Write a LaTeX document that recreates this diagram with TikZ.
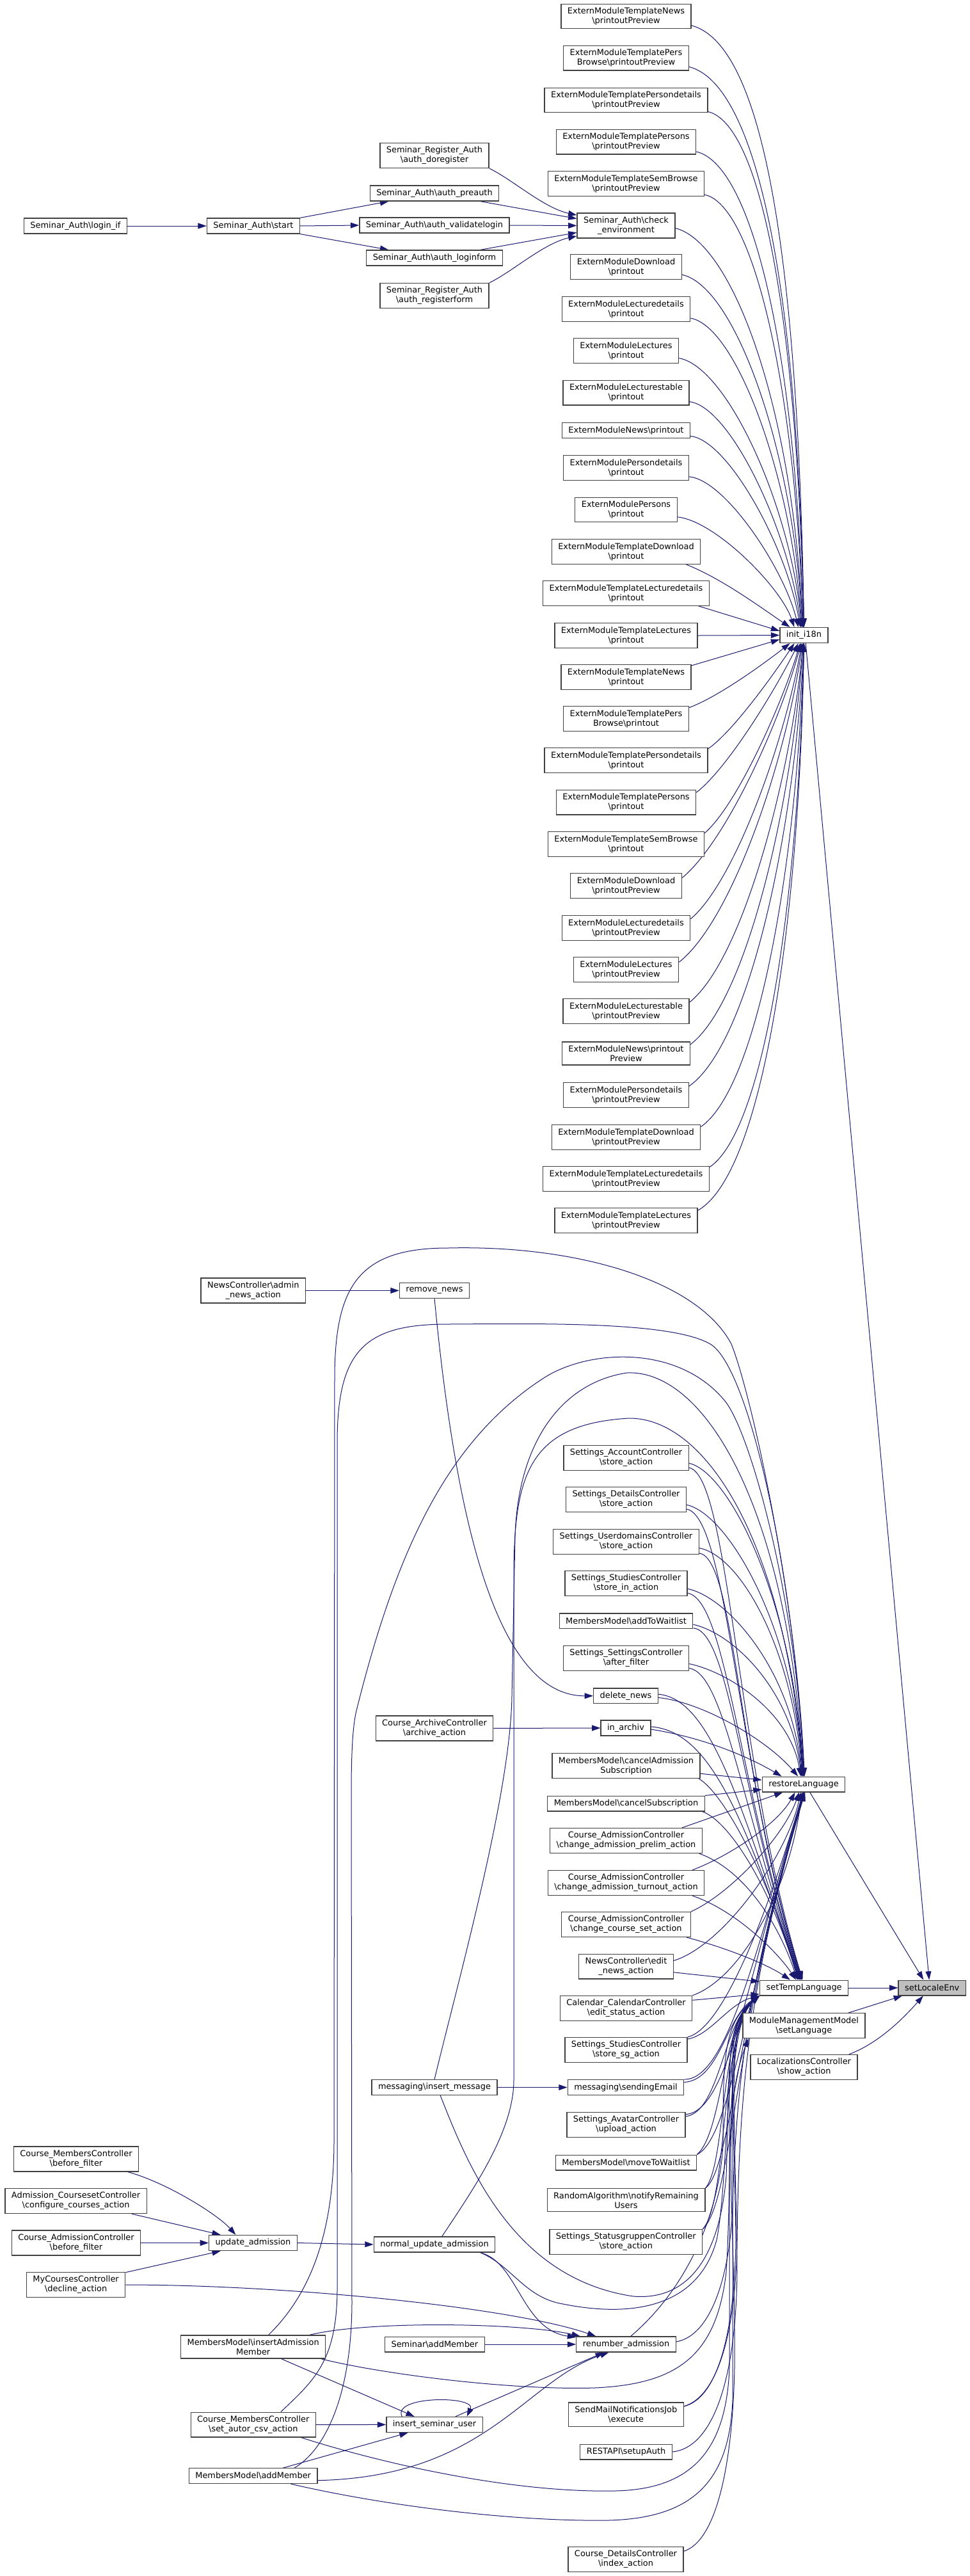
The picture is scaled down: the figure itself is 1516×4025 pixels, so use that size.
\documentclass[tikz,border=0pt]{standalone}
\usepackage{fontspec}
\setmainfont{DejaVu Sans}
\usetikzlibrary{arrows.meta}
\pgfdeclarelayer{edges}
\pgfsetlayers{edges,main}
\definecolor{edgeblue}{RGB}{25,25,112}
\definecolor{nodegray}{RGB}{64,64,64}
\definecolor{targetfill}{RGB}{191,191,191}
\newcommand{\bsl}{\textbackslash{}}

\begin{document}
\begin{tikzpicture}[x=0.75pt,y=-0.75pt]
	\tikzstyle{fnbox}=[draw=nodegray, line width=1pt, fill=white, align=center, font=\fontsize{9.7}{11.25}\selectfont, inner xsep=7.5pt, inner ysep=4.15pt, minimum height=17.75pt]
	\tikzstyle{fntarget}=[fnbox, fill=targetfill]
	\tikzstyle{callarrow}=[draw=edgeblue, line width=0.75pt, -{Triangle[length=10pt,width=6.7pt]}]
	\useasboundingbox (0,0) rectangle (1516,4025);
	% seminar auth part
	\node [fnbox] (loginif) at (118,353) {Seminar\_Auth\bsl login\_if};
	\node [fnbox] (start) at (396,353) {Seminar\_Auth\bsl start};
	\node [fnbox] (doreg) at (679,243) {Seminar\_Register\_Auth\\\bsl auth\_doregister};
	\node [fnbox] (preauth) at (679,302) {Seminar\_Auth\bsl auth\_preauth};
	\node [fnbox] (validate) at (679,352) {Seminar\_Auth\bsl auth\_validatelogin};
	\node [fnbox] (loginform) at (679,403) {Seminar\_Auth\bsl auth\_loginform};
	\node [fnbox] (regform) at (679,462) {Seminar\_Register\_Auth\\\bsl auth\_registerform};
	\node [fnbox] (checkenv) at (978.5,352.5) {Seminar\_Auth\bsl check\\\_environment};
	% extern modules
	\node [fnbox] (tnewsprev) at (978.5,25.5) {ExternModuleTemplateNews\\\bsl printoutPreview};
	\node [fnbox] (tpbprev) at (978.5,90.6) {ExternModuleTemplatePers\\Browse\bsl printoutPreview};
	\node [fnbox] (tpdprev) at (978.5,156.5) {ExternModuleTemplatePersondetails\\\bsl printoutPreview};
	\node [fnbox] (tpsprev) at (978.5,221.6) {ExternModuleTemplatePersons\\\bsl printoutPreview};
	\node [fnbox] (tsbprev) at (978.5,287) {ExternModuleTemplateSemBrowse\\\bsl printoutPreview};
	\node [fnbox] (dlprint) at (978.5,417) {ExternModuleDownload\\\bsl printout};
	\node [fnbox] (ldprint) at (978.5,483) {ExternModuleLecturedetails\\\bsl printout};
	\node [fnbox] (lcprint) at (978.5,548) {ExternModuleLectures\\\bsl printout};
	\node [fnbox] (ltprint) at (978.5,613.7) {ExternModuleLecturestable\\\bsl printout};
	\node [fnbox] (nwprint) at (978.5,672.6) {ExternModuleNews\bsl printout};
	\node [fnbox] (pdprint) at (978.5,731) {ExternModulePersondetails\\\bsl printout};
	\node [fnbox] (psprint) at (978.5,796.5) {ExternModulePersons\\\bsl printout};
	\node [fnbox] (tdlprint) at (978.5,862) {ExternModuleTemplateDownload\\\bsl printout};
	\node [fnbox] (tldprint) at (978.5,927) {ExternModuleTemplateLecturedetails\\\bsl printout};
	\node [fnbox] (tlcprint) at (978.5,993) {ExternModuleTemplateLectures\\\bsl printout};
	\node [fnbox] (tnwprint) at (978.5,1058) {ExternModuleTemplateNews\\\bsl printout};
	\node [fnbox] (tpbprint) at (978.5,1123) {ExternModuleTemplatePers\\Browse\bsl printout};
	\node [fnbox] (tpdprint) at (978.5,1188) {ExternModuleTemplatePersondetails\\\bsl printout};
	\node [fnbox] (tpsprint) at (978.5,1253.6) {ExternModuleTemplatePersons\\\bsl printout};
	\node [fnbox] (tsbprint) at (978.5,1319) {ExternModuleTemplateSemBrowse\\\bsl printout};
	\node [fnbox] (dlprev) at (978.5,1384) {ExternModuleDownload\\\bsl printoutPreview};
	\node [fnbox] (ldprev) at (978.5,1450) {ExternModuleLecturedetails\\\bsl printoutPreview};
	\node [fnbox] (lcprev) at (978.5,1515) {ExternModuleLectures\\\bsl printoutPreview};
	\node [fnbox] (ltprev) at (978.5,1580) {ExternModuleLecturestable\\\bsl printoutPreview};
	\node [fnbox] (nwprev) at (978.5,1646) {ExternModuleNews\bsl printout\\Preview};
	\node [fnbox] (pdprev) at (978.5,1711) {ExternModulePersondetails\\\bsl printoutPreview};
	\node [fnbox] (tdlprev) at (978.5,1777) {ExternModuleTemplateDownload\\\bsl printoutPreview};
	\node [fnbox] (tldprev) at (978.5,1842) {ExternModuleTemplateLecturedetails\\\bsl printoutPreview};
	\node [fnbox] (tlcprev) at (978.5,1907) {ExternModuleTemplateLectures\\\bsl printoutPreview};
	\node [fnbox] (i18n) at (1256.5,992.5) {init\_i18n};
	% language part
	\node [fnbox] (nadmin) at (395.8,2016.5) {NewsController\bsl admin\\\_news\_action};
	\node [fnbox] (rmnews) at (679,2016.5) {remove\_news};
	\node [fnbox] (acct) at (978.5,2277.7) {Settings\_AccountController\\\bsl store\_action};
	\node [fnbox] (details) at (978.5,2343) {Settings\_DetailsController\\\bsl store\_action};
	\node [fnbox] (userdom) at (978.5,2408.8) {Settings\_UserdomainsController\\\bsl store\_action};
	\node [fnbox] (studin) at (978.5,2474) {Settings\_StudiesController\\\bsl store\_in\_action};
	\node [fnbox] (addwait) at (978.5,2532.7) {MembersModel\bsl addToWaitlist};
	\node [fnbox] (afterf) at (978.5,2591) {Settings\_SettingsController\\\bsl after\_filter};
	\node [fnbox] (delnews) at (978,2649.8) {delete\_news};
	\node [fnbox] (inarchiv) at (978,2700) {in\_archiv};
	\node [fnbox] (archive) at (679,2700.4) {Course\_ArchiveController\\\bsl archive\_action};
	\node [fnbox] (cancadm) at (978.5,2759) {MembersModel\bsl cancelAdmission\\Subscription};
	\node [fnbox] (restore) at (1256,2788) {restoreLanguage};
	\node [fnbox] (cancsub) at (978.5,2818) {MembersModel\bsl cancelSubscription};
	\node [fnbox] (prelim) at (978.5,2876) {Course\_AdmissionController\\\bsl change\_admission\_prelim\_action};
	\node [fnbox] (turnout) at (978.5,2942) {Course\_AdmissionController\\\bsl change\_admission\_turnout\_action};
	\node [fnbox] (courseset) at (978.5,3007) {Course\_AdmissionController\\\bsl change\_course\_set\_action};
	\node [fnbox] (editnews) at (978.5,3072.6) {NewsController\bsl edit\\\_news\_action};
	\node [fnbox] (settemp) at (1256.6,3106) {setTempLanguage};
	\node [fntarget] (sle) at (1456.7,3106) {setLocaleEnv};
	\node [fnbox] (editstat) at (978.5,3138) {Calendar\_CalendarController\\\bsl edit\_status\_action};
	\node [fnbox] (mmlang) at (1256.4,3165) {ModuleManagementModel\\\bsl setLanguage};
	\node [fnbox] (storesg) at (978.5,3203) {Settings\_StudiesController\\\bsl store\_sg\_action};
	\node [fnbox] (lcshow) at (1256.5,3230) {LocalizationsController\\\bsl show\_action};
	\node [fnbox] (insmsg) at (679,3261.5) {messaging\bsl insert\_message};
	\node [fnbox] (sendmail) at (978,3261.5) {messaging\bsl sendingEmail};
	\node [fnbox] (avatar) at (978.5,3320) {Settings\_AvatarController\\\bsl upload\_action};
	\node [fnbox] (cmbf) at (119,3373.5) {Course\_MembersController\\\bsl before\_filter};
	\node [fnbox] (movewait) at (978.5,3379) {MembersModel\bsl moveToWaitlist};
	\node [fnbox] (notify) at (978.5,3437.7) {RandomAlgorithm\bsl notifyRemaining\\Users};
	\node [fnbox] (accc) at (118.6,3439) {Admission\_CoursesetController\\\bsl configure\_courses\_action};
	\node [fnbox] (statgr) at (978.3,3503) {Settings\_StatusgruppenController\\\bsl store\_action};
	\node [fnbox] (cabf) at (119,3504.5) {Course\_AdmissionController\\\bsl before\_filter};
	\node [fnbox] (updadm) at (395.5,3504.5) {update\_admission};
	\node [fnbox] (nupd) at (679,3507) {normal\_update\_admission};
	\node [fnbox] (decline) at (118.6,3570) {MyCoursesController\\\bsl decline\_action};
	\node [fnbox] (semadd) at (679.4,3663) {Seminar\bsl addMember};
	\node [fnbox] (renum) at (978.5,3663) {renumber\_admission};
	\node [fnbox] (insadm) at (395.7,3667) {MembersModel\bsl insertAdmission\\Member};
	\node [fnbox] (smnjob) at (978.3,3772.6) {SendMailNotificationsJob\\\bsl execute};
	\node [fnbox] (autorcsv) at (395.8,3788.6) {Course\_MembersController\\\bsl set\_autor\_csv\_action};
	\node [fnbox] (insu) at (679,3788.4) {insert\_seminar\_user};
	\node [fnbox] (restauth) at (978.6,3831) {RESTAPI\bsl setupAuth};
	\node [fnbox] (addmem) at (395.7,3868.6) {MembersModel\bsl addMember};
	\node [fnbox] (cdindex) at (978,3999) {Course\_DetailsController\\\bsl index\_action};
	\begin{pgfonlayer}{edges}
	% seminar auth calls
	\draw [callarrow] (loginif.east) -- (start.west);
	\draw [callarrow] (start.north east) -- (preauth.190);
	\draw [callarrow] (start.east) -- (validate.west);
	\draw [callarrow] (start.south east) -- (loginform.170);
	\draw [callarrow] (doreg.south east) .. controls (800,280) and (850,325) .. (checkenv.168);
	\draw [callarrow] (preauth.-10) -- (checkenv.172);
	\draw [callarrow] (validate.east) -- (checkenv.west);
	\draw [callarrow] (loginform.10) -- (checkenv.188);
	\draw [callarrow] (regform.north east) .. controls (800,425) and (850,380) .. (checkenv.192);
	% calls of init_i18n
	\draw [callarrow] (tnewsprev.-8) .. controls (1180,66) and (1246,330) .. (i18n.90);
	\draw [callarrow] (tpbprev.-8) .. controls (1174,129) and (1245,400) .. (i18n.90);
	\draw [callarrow] (tpdprev.-8) .. controls (1185,193) and (1244,467) .. (i18n.90);
	\draw [callarrow] (tpsprev.-8) .. controls (1172,256) and (1242,529) .. (i18n.95);
	\draw [callarrow] (tsbprev.-8) .. controls (1175,319) and (1241,588) .. (i18n.95);
	\draw [callarrow] (checkenv.-3) .. controls (1146,379) and (1239,640) .. (i18n.100);
	\draw [callarrow] (dlprint.-8) .. controls (1147,446) and (1238,695) .. (i18n.100);
	\draw [callarrow] (ldprint.-8) .. controls (1151,510) and (1236,743) .. (i18n.105);
	\draw [callarrow] (lcprint.-8) .. controls (1136,573) and (1234,787) .. (i18n.105);
	\draw [callarrow] (ltprint.-8) .. controls (1142,636) and (1232,828) .. (i18n.110);
	\draw [callarrow] (nwprint.-5) .. controls (1139,688) and (1230,857) .. (i18n.115);
	\draw [callarrow] (pdprint.-8) .. controls (1134,750) and (1226,890) .. (i18n.125);
	\draw [callarrow] (psprint.-8) .. controls (1118,814) and (1220,917) .. (i18n.140);
	\draw [callarrow] (tdlprint.-12) .. controls (1130,905) and (1190,950) .. (i18n.150);
	\draw [callarrow] (tldprint.-10) -- (i18n.170);
	\draw [callarrow] (tlcprint.east) -- (i18n.west);
	\draw [callarrow] (tnwprint.10) -- (i18n.190);
	\draw [callarrow] (tpbprint.10) .. controls (1120,1090) and (1190,1040) .. (i18n.210);
	\draw [callarrow] (tpdprint.8) .. controls (1145,1144) and (1211,1051) .. (i18n.220);
	\draw [callarrow] (tpsprint.8) .. controls (1138,1200) and (1214,1074) .. (i18n.235);
	\draw [callarrow] (tsbprint.8) .. controls (1152,1258) and (1222,1100) .. (i18n.245);
	\draw [callarrow] (dlprev.8) .. controls (1134,1316) and (1219,1128) .. (i18n.250);
	\draw [callarrow] (ldprev.8) .. controls (1149,1377) and (1226,1158) .. (i18n.255);
	\draw [callarrow] (lcprev.8) .. controls (1144,1438) and (1227,1192) .. (i18n.260);
	\draw [callarrow] (ltprev.8) .. controls (1159,1501) and (1233,1228) .. (i18n.265);
	\draw [callarrow] (nwprev.8) .. controls (1165,1566) and (1236,1268) .. (i18n.265);
	\draw [callarrow] (pdprev.8) .. controls (1170,1631) and (1240,1310) .. (i18n.270);
	\draw [callarrow] (tdlprev.8) .. controls (1184,1699) and (1245,1354) .. (i18n.270);
	\draw [callarrow] (tldprev.8) .. controls (1195,1766) and (1248,1402) .. (i18n.270);
	\draw [callarrow] (tlcprev.8) .. controls (1191,1834) and (1249,1449) .. (i18n.270);
	% calls of setLocaleEnv
	\draw [callarrow] (i18n.-78) -- (sle.110);
	\draw [callarrow] (restore.-52) -- (sle.137);
	\draw [callarrow] (settemp.east) -- (sle.west);
	\draw [callarrow] (mmlang.16) -- (sle.195);
	\draw [callarrow] (lcshow.16) .. controls (1375,3192) and (1415,3150) .. (sle.222);
	% left part
	\draw [callarrow] (nadmin.east) -- (rmnews.west);
	\draw [callarrow] (rmnews.south) .. controls (710,2350) and (770,2650) .. (delnews.west);
	\draw [callarrow] (archive.east) -- (inarchiv.west);
	\draw [callarrow] (insmsg.east) -- (sendmail.west);
	\draw [callarrow] (cmbf.-14) .. controls (260,3410) and (340,3460) .. (updadm.155);
	\draw [callarrow] (accc.-13) -- (updadm.166);
	\draw [callarrow] (cabf.east) -- (updadm.west);
	\draw [callarrow] (decline.14) -- (updadm.194);
	\draw [callarrow] (decline.east) .. controls (450,3570) and (800,3605) .. (renum.165);
	\draw [callarrow] (updadm.east) -- (nupd.west);
	\draw [callarrow] (nupd.-10) .. controls (810,3535) and (815,3640) .. (renum.172);
	\draw [callarrow] (semadd.east) -- (renum.west);
	\draw [callarrow] (insadm.12) .. controls (580,3625) and (820,3630) .. (renum.170);
	\draw [callarrow] (insu.21) -- (renum.200);
	\draw [callarrow] (addmem.-4) .. controls (760,3870) and (820,3720) .. (renum.205);
	\draw [callarrow] (insadm.-23) -- (insu.158);
	\draw [callarrow] (autorcsv.east) -- (insu.west);
	\draw [callarrow] (addmem.15) -- (insu.197);
	\draw [callarrow] (insu.166) .. controls (612,3743) and (745,3743) .. (insu.14);
	\draw [callarrow] (cdindex.8) .. controls (1120,3970) and (1145,3850) .. (1148,3700) .. controls (1150,3450) and (1125,3300) .. (mmlang.193);
	% calls of restoreLanguage
	\draw [callarrow] (insadm.38) .. controls (490,3580) and (521,3480) .. (522,3350) -- (523,2150) .. controls (524,2010) and (560,1950) .. (700,1950) .. controls (900,1945) and (1090,2000) .. (1143,2100) .. controls (1175,2180) and (1245,2500) .. (restore.84);
	\draw [callarrow] (autorcsv.25) .. controls (490,3720) and (526,3690) .. (527,3580) -- (527,2250) .. controls (528,2110) and (570,2069) .. (700,2069) .. controls (850,2068) and (1050,2065) .. (1110,2100) .. controls (1170,2135) and (1240,2450) .. (restore.86);
	\draw [callarrow] (addmem.11) .. controls (505,3830) and (549,3750) .. (550,3600) -- (549,2800) .. controls (549,2720) and (553,2690) .. (557,2673) .. controls (620,2420) and (700,2250) .. (850,2153) .. controls (920,2108) and (1060,2100) .. (1133,2189) .. controls (1173,2238) and (1245,2500) .. (restore.88);
	\draw [callarrow] (insmsg.north) .. controls (720,3080) and (798,2800) .. (800,2650) -- (805,2400) .. controls (810,2250) and (880,2160) .. (980,2145) .. controls (1100,2140) and (1230,2350) .. (restore.90);
	\draw [callarrow] (nupd.47) .. controls (740,3420) and (803,3330) .. (803,3250) -- (803,2450) .. controls (805,2300) and (830,2225) .. (983,2216) .. controls (1100,2215) and (1225,2400) .. (restore.92);
	\draw [callarrow] (acct.-5) .. controls (1140,2300) and (1240,2501) .. (restore.94);
	\draw [callarrow] (details.-5) .. controls (1137,2365) and (1239,2537) .. (restore.97);
	\draw [callarrow] (userdom.-5) .. controls (1157,2431) and (1238,2574) .. (restore.100);
	\draw [callarrow] (studin.-5) .. controls (1138,2496) and (1237,2610) .. (restore.103);
	\draw [callarrow] (addwait.-3) .. controls (1148,2553) and (1236,2642) .. (restore.106);
	\draw [callarrow] (afterf.-5) .. controls (1140,2613) and (1235,2676) .. (restore.110);
	\draw [callarrow] (delnews.-3) .. controls (1100,2660) and (1200,2720) .. (restore.125);
	\draw [callarrow] (inarchiv.-3) .. controls (1100,2715) and (1170,2745) .. (restore.160);
	\draw [callarrow] (cancadm.-6) -- (restore.174);
	\draw [callarrow] (cancsub.north east) -- (restore.187);
	\draw [callarrow] (prelim.13) -- (restore.201);
	\draw [callarrow] (turnout.11) .. controls (1140,2900) and (1215,2850) .. (restore.223);
	\draw [callarrow] (courseset.north east) .. controls (1140,2960) and (1225,2870) .. (restore.240);
	\draw [callarrow] (editnews.7) .. controls (1130,3040) and (1230,2900) .. (restore.250);
	\draw [callarrow] (editstat.north east) .. controls (1160,3090) and (1235,2950) .. (restore.258);
	\draw [callarrow] (storesg.north east) .. controls (1130,3170) and (1200,2990) .. (restore.266);
	\draw [callarrow] (sendmail.north east) .. controls (1135,3250) and (1180,3056) .. (restore.268);
	\draw [callarrow] (avatar.10) .. controls (1140,3300) and (1170,3080) .. (restore.270);
	\draw [callarrow] (movewait.north east) .. controls (1140,3340) and (1160,3150) .. (restore.272);
	\draw [callarrow] (notify.north east) .. controls (1142,3390) and (1152,3150) .. (restore.274);
	\draw [callarrow] (statgr.north east) .. controls (1145,3440) and (1148,3160) .. (restore.276);
	\draw [callarrow] (renum.3) .. controls (1110,3650) and (1140,3560) .. (1145,3450) .. controls (1150,3250) and (1172,3080) .. (restore.278);
	\draw [callarrow] (smnjob.8) .. controls (1120,3745) and (1150,3650) .. (1152,3500) .. controls (1155,3250) and (1175,3080) .. (restore.280);
	% calls of setTempLanguage
	\draw [callarrow] (acct.-9) .. controls (1140,2305) and (1150,2750) .. (settemp.100);
	\draw [callarrow] (details.-9) .. controls (1138,2370) and (1150,2760) .. (settemp.103);
	\draw [callarrow] (userdom.-9) .. controls (1150,2435) and (1152,2770) .. (settemp.106);
	\draw [callarrow] (studin.-9) .. controls (1135,2500) and (1152,2780) .. (settemp.109);
	\draw [callarrow] (addwait.-6) .. controls (1140,2550) and (1153,2790) .. (settemp.112);
	\draw [callarrow] (afterf.-9) .. controls (1130,2615) and (1154,2800) .. (settemp.115);
	\draw [callarrow] (delnews.3) .. controls (1110,2655) and (1155,2810) .. (settemp.118);
	\draw [callarrow] (inarchiv.3) .. controls (1105,2705) and (1157,2820) .. (settemp.121);
	\draw [callarrow] (cancadm.-10) .. controls (1130,2800) and (1200,2930) .. (settemp.124);
	\draw [callarrow] (cancsub.-6) .. controls (1140,2845) and (1205,2950) .. (settemp.127);
	\draw [callarrow] (prelim.-10) .. controls (1160,2920) and (1215,3000) .. (settemp.130);
	\draw [callarrow] (turnout.-11) .. controls (1150,2985) and (1215,3050) .. (settemp.135);
	\draw [callarrow] (courseset.-12) .. controls (1140,3045) and (1200,3070) .. (settemp.150);
	\draw [callarrow] (editnews.-7) -- (settemp.172);
	\draw [callarrow] (editstat.7) -- (settemp.188);
	\draw [callarrow] (storesg.10) .. controls (1110,3180) and (1140,3130) .. (settemp.south west);
	\draw [callarrow] (sendmail.5) .. controls (1125,3250) and (1135,3150) .. (settemp.south west);
	\draw [callarrow] (avatar.8) .. controls (1125,3300) and (1130,3160) .. (settemp.south west);
	\draw [callarrow] (movewait.north east) .. controls (1130,3330) and (1128,3165) .. (settemp.south west);
	\draw [callarrow] (notify.north east) .. controls (1135,3380) and (1125,3170) .. (settemp.south west);
	\draw [callarrow] (statgr.north east) .. controls (1138,3440) and (1125,3175) .. (settemp.south west);
	\draw [callarrow] (renum.60) .. controls (1080,3570) and (1125,3450) .. (1130,3350) .. controls (1130,3220) and (1130,3160) .. (settemp.south west);
	\draw [callarrow] (smnjob.8) .. controls (1120,3748) and (1148,3650) .. (1150,3500) .. controls (1148,3300) and (1132,3160) .. (settemp.south west);
	\draw [callarrow] (restauth.east) .. controls (1110,3825) and (1150,3730) .. (1152,3550) .. controls (1150,3300) and (1133,3160) .. (settemp.south west);
	\draw [callarrow] (insmsg.-54) .. controls (730,3380) and (800,3560) .. (990,3588) .. controls (1080,3595) and (1125,3520) .. (1135,3400) .. controls (1140,3280) and (1130,3160) .. (settemp.south west);
	\draw [callarrow] (nupd.-10) .. controls (800,3540) and (820,3590) .. (880,3600) .. controls (980,3620) and (1090,3610) .. (1120,3500) .. controls (1140,3400) and (1130,3165) .. (settemp.south west);
	\draw [callarrow] (insadm.-10) .. controls (600,3710) and (800,3735) .. (930,3731) .. controls (1060,3725) and (1120,3680) .. (1135,3550) .. controls (1145,3400) and (1132,3165) .. (settemp.south west);
	\draw [callarrow] (autorcsv.-15) .. controls (600,3850) and (800,3895) .. (960,3892) .. controls (1080,3890) and (1135,3830) .. (1140,3700) -- (1140,3350) .. controls (1140,3220) and (1135,3160) .. (settemp.south west);
	\draw [callarrow] (addmem.-12) .. controls (600,3915) and (800,3940) .. (950,3938) .. controls (1080,3935) and (1140,3880) .. (1145,3750) -- (1145,3350) .. controls (1145,3220) and (1137,3160) .. (settemp.south west);
	\end{pgfonlayer}
\end{tikzpicture}
\end{document}
